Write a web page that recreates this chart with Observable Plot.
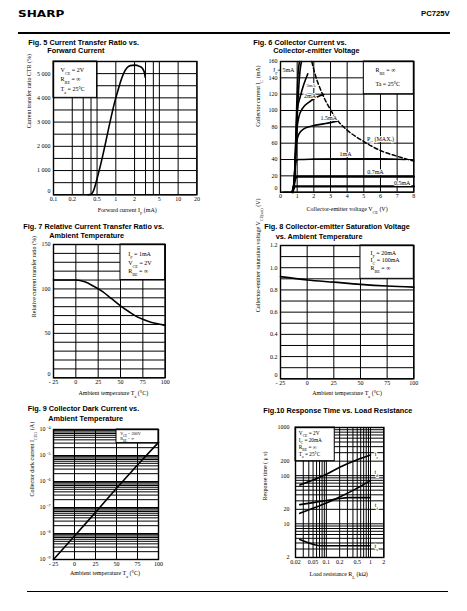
<!DOCTYPE html>
<html><head><meta charset="utf-8">
<script src="https://cdn.jsdelivr.net/npm/d3@7"></script>
<script src="https://cdn.jsdelivr.net/npm/@observablehq/plot@0.6"></script>
<style>
html,body{margin:0;padding:0;background:#fff;}
body{width:467px;height:611px;position:relative;overflow:hidden;}
.abs{position:absolute;white-space:nowrap;}
.ttl{font-family:"Liberation Sans",Arial,sans-serif;font-weight:bold;font-size:7.3px;line-height:9px;color:#000;}
svg{display:block;overflow:visible;}
</style></head><body>
<div class="abs" style="left:18px;top:8px;font-family:'DejaVu Sans',sans-serif;font-weight:bold;font-size:8.5px;line-height:12px;transform:scaleX(1.42);transform-origin:left center;">SHARP</div>
<div class="abs" style="left:421px;top:8px;font-family:'Liberation Sans',Arial,sans-serif;font-weight:bold;font-size:7.7px;line-height:12px;">PC725V</div>
<div class="abs" style="left:18px;top:31.5px;width:432px;height:2.7px;background:#000;"></div>
<div class="abs" style="left:27px;top:591px;width:421px;height:1.3px;background:#000;"></div>

<div class="abs ttl" style="left:28.3px;top:37.5px;">Fig. 5 Current Transfer Ratio vs.</div>
<div class="abs ttl" style="left:47.3px;top:45.5px;">Forward Current</div>
<div class="abs ttl" style="left:253.3px;top:37.5px;">Fig. 6 Collector Current vs.</div>
<div class="abs ttl" style="left:273.3px;top:45.5px;">Collector-emitter Voltage</div>
<div class="abs ttl" style="left:23.3px;top:221.5px;">Fig. 7 Relative Current Transfer Ratio vs.</div>
<div class="abs ttl" style="left:49.3px;top:231.2px;">Ambient Temperature</div>
<div class="abs ttl" style="left:264.3px;top:221.5px;">Fig. 8 Collector-emitter Saturation Voltage</div>
<div class="abs ttl" style="left:275.7px;top:231.5px;">vs. Ambient Temperature</div>
<div class="abs ttl" style="left:27.7px;top:403.8px;">Fig. 9 Collector Dark Current vs.</div>
<div class="abs ttl" style="left:48.3px;top:413.8px;">Ambient Temperature</div>
<div class="abs ttl" style="left:263.3px;top:405.5px;">Fig.10 Response Time vs. Load Resistance</div>

<script>
// ---------------- DATA ----------------
// Fig 5: CTR vs forward current
const f5_xTicks = [0.1, 0.2, 0.5, 1, 2, 5, 10, 20];
const f5_xGrid = [0.1, 0.2, 0.3, 0.4, 0.5, 1, 2, 3, 4, 5, 10, 20];
const f5_yTicks = [1000, 2000, 3000, 4000, 5000];
const f5_yGrid = [0, 500, 1000, 1500, 2000, 2500, 3000, 3500, 4000, 4500, 5000, 5500];
const f5_IF  = [0.36, 0.40, 0.43, 0.54, 1.0, 1.33, 1.5, 1.7, 2.0, 2.4, 2.7, 2.9, 2.97];
const f5_CTR = [0, 20, 120, 1000, 4000, 5000, 5230, 5330, 5350, 5300, 5200, 5000, 4850];
const f5_notes = ["V_{CE} = 2V", "R_{BE} = ∞", "T_{a} = 25°C"];

// Fig 6: collector current vs collector-emitter voltage
const f6_xTicks = [0, 1, 2, 3, 4, 5, 6, 7, 8];
const f6_yTicks = [20, 40, 60, 80, 100, 120, 140, 160];
const f6_yGrid = [0, 20, 40, 60, 80, 100, 120, 140, 160];
const f6_V_5  = [0.2, 0.70, 0.80, 0.88, 0.95, 1.02, 1.10, 1.18, 1.26];
const f6_I_5  = [0, 0, 8, 30, 65, 100, 130, 150, 160];
const f6_V_4  = [0.70, 0.80, 0.87, 0.93, 0.98, 1.04, 1.14];
const f6_I_4  = [0, 8, 35, 75, 110, 140, 160];
const f6_V_3  = [0.72, 0.82, 0.90, 1.00, 1.20, 1.40, 1.64];
const f6_I_3  = [0, 12, 50, 100, 118, 132, 145];
const f6_V_2  = [0.72, 0.82, 0.90, 0.98, 1.10, 1.30, 1.70, 2.20, 2.60];
const f6_I_2  = [0, 12, 45, 75, 92, 102, 110, 116.5, 119.5];
const f6_V_15 = [0.72, 0.82, 0.90, 0.96, 1.10, 1.40, 1.90, 2.70, 3.40];
const f6_I_15 = [0, 12, 42, 60, 71, 77.5, 81, 84, 87];
const f6_V_1  = [0.72, 0.82, 0.90, 0.97, 1.10, 2.0, 4.0, 6.0, 7.5];
const f6_I_1  = [0, 12, 33, 39, 40, 40.5, 41, 41, 40];
const f6_V_07 = [0.72, 0.82, 0.90, 1.00, 8.0];
const f6_I_07 = [0, 10, 17, 19, 19];
const f6_V_05 = [0.72, 0.80, 0.88, 8.0];
const f6_I_05 = [0, 5, 7, 7];
const f6_V_pc = [1.88, 2.0, 2.5, 3.0, 3.5, 4.0, 5.0, 6.0, 7.0, 8.0];
const f6_I_pc = [160, 150, 121, 101, 86, 76, 62, 51, 44, 38];
const f6_labels = ["I_{F}= 5mA", "3mA", "2mA", "1.5mA", "P_{C} (MAX.)", "1mA", "0.7mA", "0.5mA"];
const f6_notes = ["R_{BE} = ∞", "Ta = 25°C"];

// Fig 7: relative CTR vs ambient temperature
const tTicks = [-25, 0, 25, 50, 75, 100];
const f7_yTicks = [50, 100, 150];
const f7_yGrid = [0, 10, 20, 30, 40, 50, 60, 70, 80, 90, 100, 110, 120, 130, 140, 150];
const f7_T = [-25, 0, 10, 20, 30, 40, 50, 60, 70, 80, 90, 100];
const f7_R = [110, 110, 108, 103, 97, 89, 81, 74, 68, 64, 61, 59];
const f7_notes = ["I_{F} = 1mA", "V_{CE} = 2V", "R_{BE} = ∞"];

// Fig 8: saturation voltage vs ambient temperature
const f8_yTicks = [0.2, 0.4, 0.6, 0.8, 1.0, 1.2];
const f8_yGrid = [0, 0.1, 0.2, 0.3, 0.4, 0.5, 0.6, 0.7, 0.8, 0.9, 1.0, 1.1, 1.2];
const f8_T = [-25, 0, 25, 50, 75, 100];
const f8_V = [0.92, 0.89, 0.87, 0.85, 0.835, 0.825];
const f8_notes = ["I_{F} = 20mA", "I_{C} = 100mA", "R_{BE} = ∞"];

// Fig 9: dark current vs ambient temperature
const f9_decades = [1e-9, 1e-8, 1e-7, 1e-6, 1e-5];
const f9_mant = [1, 2, 3, 4, 5, 6, 7, 8, 9];
const f9_yTicks = [1e-9, 1e-8, 1e-7, 1e-6, 1e-5, 1e-4];
const f9_T = [-25, 0, 25, 50, 75, 100];
const f9_I = [1e-9, 8e-9, 6.5e-8, 5.5e-7, 4.3e-6, 3.2e-5];
const f9_notes = ["V_{CE} = 200V", "R_{BE} = ∞"];

// Fig 10: response time vs load resistance
const f10_xTicks = [0.02, 0.05, 0.1, 0.2, 0.5, 1, 2];
const f10_yTicks = [2, 5, 10, 20, 50, 100, 200, 500, 1000];
const f10_xDec = [0.01, 0.1, 1];
const f10_yDec = [1, 10, 100];
const f10_RL_tr = [0.025, 0.05, 0.1, 0.2, 0.5, 1.0];
const f10_tr    = [64, 81, 107, 150, 215, 270];
const f10_RL_td = [0.025, 0.05, 0.1, 0.2, 0.5, 1.0];
const f10_td    = [16.5, 21, 27, 36, 55, 80];
const f10_RL_tf = [0.025, 0.05, 0.1, 0.2, 0.3, 0.5, 1.0];
const f10_tf    = [25, 27.5, 30.5, 33.5, 35, 35, 35];
const f10_RL_ts = [0.025, 0.04, 0.06, 0.08, 0.2, 1.0];
const f10_ts    = [4.7, 4.0, 3.6, 3.5, 3.5, 3.5];
const f10_labels = ["t_{r}", "t_{d}", "t_{f}", "t_{s}"];
const f10_notes = ["V_{CE} = 2V", "I_{C} = 20mA", "R_{BE} = ∞", "T_{a} = 25°C"];

// ---------------- HELPERS ----------------
const zip = (xs, ys) => xs.map((x, i) => ({x, y: ys[i]}));
const NS = "http://www.w3.org/2000/svg";
function richify(root) {
  root.querySelectorAll("text").forEach(t => {
    const kids = t.querySelectorAll("tspan");
    const els = kids.length ? Array.from(kids) : [t];
    els.forEach(el => {
      const s = el.textContent;
      if (!/[_^]\{/.test(s)) return;
      while (el.firstChild) el.removeChild(el.firstChild);
      const re = /([_^])\{([^}]*)\}/g; let last = 0, m;
      const add = (txt, kind) => {
        if (!txt) return;
        const ts = document.createElementNS(NS, "tspan");
        ts.textContent = txt;
        if (kind) { ts.setAttribute("font-size", "70%"); ts.setAttribute("baseline-shift", kind === "_" ? "sub" : "super"); }
        el.appendChild(ts);
      };
      while ((m = re.exec(s))) { add(s.slice(last, m.index)); add(m[2], m[1]); last = re.lastIndex; }
      add(s.slice(last));
    });
  });
}
const ML = 42, MR = 14, MT = 6, MB = 26;
function mk(f, opts) {
  const w = f.x1 - f.x0, h = f.y1 - f.y0;
  const svg = Plot.plot({
    width: w + ML + MR, height: h + MT + MB,
    marginLeft: ML, marginRight: MR, marginTop: MT, marginBottom: MB,
    style: {fontFamily: "'Liberation Serif', 'Times New Roman', serif", fontSize: "6px", background: "transparent", color: "#000", overflow: "visible"},
    ...opts
  });
  richify(svg);
  const d = document.createElement("div");
  d.style.cssText = `position:absolute;left:${f.x0 - ML}px;top:${f.y0 - MT}px;`;
  d.appendChild(svg);
  document.body.appendChild(d);
}
const G = {stroke: "#000", strokeWidth: 1};
const fmtSpace = d => d === 0 ? "0" : d3.format(",")(d).replace(/,/g, " ");
const fmtT = d => d < 0 ? "- " + (-d) : String(d);
const xTitle = (s, dy, dx = 0) => Plot.text([s], {frameAnchor: "bottom", lineAnchor: "middle", dy, dx, fontSize: 6});
const yTitle = (s, dx, dy = 0) => Plot.text([s], {frameAnchor: "left", lineAnchor: "middle", rotate: -90, dx, dy, fontSize: 6});
// the "0" of the y axis sits a little above the frame's corner, as in the reference
const zeroLabel = (xmin) => Plot.text(["0"], {x: xmin, y: 0, textAnchor: "end", dx: -3, dy: -4, fontSize: 6});

// ---------------- FIG 5 ----------------
mk({x0: 53.3, y0: 61, x1: 196.7, y1: 194.3}, {
  x: {type: "log", domain: [0.1, 20], ticks: f5_xTicks, tickFormat: d => String(d), tickSize: 0, tickPadding: 2, label: null},
  y: {domain: [0, 5500], ticks: f5_yTicks, tickFormat: fmtSpace, tickSize: 0, tickPadding: 3, label: null},
  marks: [
    Plot.ruleX(f5_xGrid, G), Plot.ruleY(f5_yGrid, G),
    Plot.rect([0], {x1: 0.1, x2: 0.5, y1: 4000, y2: 5500, fill: "white", stroke: "#000"}),
    Plot.line(zip(f5_IF, f5_CTR), {x: "x", y: "y", strokeWidth: 1.6, curve: "monotone-x"}),
    Plot.text(f5_notes, {x: 0.13, y: (d, i) => [5130, 4760, 4370][i], textAnchor: "start", fontSize: 6}),
    Plot.frame({strokeWidth: 1.4}),
    zeroLabel(0.1),
    xTitle("Forward current I_{F} (mA)", 15.5, 2),
    yTitle("Current transfer ratio CTR (%)", -24)
  ]
});

// ---------------- FIG 6 ----------------
mk({x0: 280, y0: 61, x1: 413.3, y1: 191.7}, {
  x: {domain: [0, 8], ticks: f6_xTicks, tickSize: 0, tickPadding: 2, label: null},
  y: {domain: [0, 160], ticks: f6_yTicks, tickSize: 0, tickPadding: 3, label: null},
  marks: [
    Plot.ruleX(f6_xTicks, G), Plot.ruleY(f6_yGrid, G),
    Plot.rect([0], {x1: 5, x2: 8, y1: 120, y2: 160, fill: "white", stroke: "#000"}),
    Plot.line(zip(f6_V_05, f6_I_05), {x: "x", y: "y", strokeWidth: 2.3, curve: "monotone-x"}),
    Plot.line(zip(f6_V_07, f6_I_07), {x: "x", y: "y", strokeWidth: 2.3, curve: "monotone-x"}),
    Plot.line(zip(f6_V_1, f6_I_1), {x: "x", y: "y", strokeWidth: 1.6, curve: "monotone-x"}),
    Plot.line(zip(f6_V_15, f6_I_15), {x: "x", y: "y", strokeWidth: 1.6, curve: "monotone-x"}),
    Plot.line(zip(f6_V_2, f6_I_2), {x: "x", y: "y", strokeWidth: 1.6, curve: "monotone-x"}),
    Plot.line(zip(f6_V_3, f6_I_3), {x: "x", y: "y", strokeWidth: 1.6, curve: "monotone-x"}),
    Plot.line(zip(f6_V_4, f6_I_4), {x: "x", y: "y", strokeWidth: 1.6, curve: "monotone-x"}),
    Plot.line(zip(f6_V_5, f6_I_5), {x: "x", y: "y", strokeWidth: 1.6, curve: "monotone-x"}),
    Plot.line(zip(f6_V_pc, f6_I_pc), {x: "x", y: "y", strokeWidth: 1.5, strokeDasharray: "4,2.5", curve: "monotone-x"}),
    Plot.text(f6_labels, {
      x: [0.2, 1.83, 1.77, 2.9, 6.0, 3.9, 5.7, 7.3],
      y: [150, 130, 118, 90.6, 64.5, 46.5, 24.5, 11],
      textAnchor: (d, i) => i === 0 ? "start" : "middle",
      fontSize: (d, i) => i === 1 ? 4.5 : 6,
      stroke: "white", strokeWidth: 2, fill: "#000"
    }),
    Plot.text(f6_notes, {x: 5.7, y: [149, 132.7], textAnchor: "start", fontSize: 6}),
    Plot.frame({strokeWidth: 1.4}),
    zeroLabel(0),
    xTitle("Collector-emitter voltage V_{CE} (V)", 17, 0),
    yTitle("Collector current I_{C} (mA)", -22)
  ]
});

// ---------------- FIG 7 ----------------
mk({x0: 53.3, y0: 244, x1: 165, y1: 377.3}, {
  x: {domain: [-25, 100], ticks: tTicks, tickFormat: fmtT, tickSize: 0, tickPadding: 2, label: null},
  y: {domain: [0, 150], ticks: f7_yTicks, tickSize: 0, tickPadding: 3, label: null},
  marks: [
    Plot.ruleX(tTicks, G), Plot.ruleY(f7_yGrid, G),
    Plot.rect([0], {x1: 50, x2: 100, y1: 110, y2: 150, fill: "white", stroke: "#000"}),
    Plot.line(zip(f7_T, f7_R), {x: "x", y: "y", strokeWidth: 1.6, curve: "monotone-x"}),
    Plot.text(f7_notes, {x: 58.6, y: [139.5, 129.4, 119.6], textAnchor: "start", fontSize: 6}),
    Plot.frame({strokeWidth: 1.4}),
    zeroLabel(-25),
    xTitle("Ambient temperature T_{a} (°C)", 15.4, 4),
    yTitle("Relative current transfer ratio (%)", -19, 6)
  ]
});

// ---------------- FIG 8 ----------------
mk({x0: 280, y0: 245, x1: 413.3, y1: 378.3}, {
  x: {domain: [-25, 100], ticks: tTicks, tickFormat: fmtT, tickSize: 0, tickPadding: 2, label: null},
  y: {domain: [0, 1.2], ticks: f8_yTicks, tickFormat: d => d.toFixed(1), tickSize: 0, tickPadding: 3, label: null},
  marks: [
    Plot.ruleX(tTicks, G), Plot.ruleY(f8_yGrid, G),
    Plot.rect([0], {x1: 50, x2: 100, y1: 0.9, y2: 1.2, fill: "white", stroke: "#000"}),
    Plot.line(zip(f8_T, f8_V), {x: "x", y: "y", strokeWidth: 1.6, curve: "monotone-x"}),
    Plot.text(f8_notes, {x: 59.4, y: [1.134, 1.071, 0.996], textAnchor: "start", fontSize: 6}),
    Plot.frame({strokeWidth: 1.4}),
    zeroLabel(-25),
    xTitle("Ambient temperature T_{a} (°C)", 14.4, 0),
    yTitle("Collector-emitter saturation voltage V_{CE(sat)} (V)", -22)
  ]
});

// ---------------- FIG 9 ----------------
const f9_yGrid = f9_decades.flatMap(d => f9_mant.map(m => m * d)).concat([1e-4]);
mk({x0: 53.3, y0: 429.3, x1: 158.3, y1: 559.3}, {
  x: {domain: [-25, 100], ticks: tTicks, tickFormat: fmtT, tickSize: 0, tickPadding: 2, label: null},
  y: {type: "log", domain: [1e-9, 1e-4], ticks: f9_yTicks, tickFormat: d => "10 ^{-" + Math.round(-Math.log10(d)) + "}", tickSize: 0, tickPadding: 3, label: null},
  marks: [
    Plot.ruleX(tTicks, G), Plot.ruleY(f9_yGrid, G),
    Plot.rect([0], {x1: 50, x2: 100, y1: 3e-5, y2: 1e-4, fill: "white", stroke: "#000"}),
    Plot.line(zip(f9_T, f9_I), {x: "x", y: "y", strokeWidth: 1.6}),
    Plot.text(f9_notes, {x: 54.4, y: [6.9e-5, 4.4e-5], textAnchor: "start", fontSize: 4.2}),
    Plot.frame({strokeWidth: 1.4}),
    xTitle("Ambient temperature T_{a} (°C)", 13.7, -1),
    yTitle("Collector dark current I_{CEO} (A)", -21.6, 2)
  ]
});

// ---------------- FIG 10 ----------------
const f10_xGrid = f10_xDec.flatMap(d => [1, 2, 3, 4, 5, 6, 7, 8, 9].map(m => m * d)).filter(v => v >= 0.0199 && v <= 2.001);
const f10_yGrid = f10_yDec.flatMap(d => [1, 2, 3, 4, 5, 6, 7, 8, 9].map(m => m * d)).filter(v => v >= 1.99).concat([1000]);
mk({x0: 295, y0: 426.7, x1: 383.3, y1: 556.7}, {
  x: {type: "log", domain: [0.02, 2], ticks: f10_xTicks, tickFormat: d => String(d), tickSize: 0, tickPadding: 2, label: null},
  y: {type: "log", domain: [2, 1000], ticks: f10_yTicks, tickFormat: d => String(d), tickSize: 0, tickPadding: 6, label: null},
  marks: [
    Plot.ruleX(f10_xGrid, G), Plot.ruleY(f10_yGrid, G),
    Plot.rect([0], {x1: 0.02, x2: 0.155, y1: 200, y2: 1000, fill: "white", stroke: "#000"}),
    Plot.line(zip(f10_RL_tr, f10_tr), {x: "x", y: "y", strokeWidth: 1.6, curve: "monotone-x"}),
    Plot.line(zip(f10_RL_td, f10_td), {x: "x", y: "y", strokeWidth: 1.6, curve: "monotone-x"}),
    Plot.line(zip(f10_RL_tf, f10_tf), {x: "x", y: "y", strokeWidth: 1.6, curve: "monotone-x"}),
    Plot.line(zip(f10_RL_ts, f10_ts), {x: "x", y: "y", strokeWidth: 1.6, curve: "monotone-x"}),
    Plot.text(f10_labels, {x: 1.35, y: [280, 116, 24.8, 3.5], fontSize: 6, stroke: "white", strokeWidth: 2, fill: "#000"}),
    Plot.text(f10_notes, {x: 0.0238, y: [745, 530, 382, 273], textAnchor: "start", fontSize: 5.3}),
    Plot.frame({strokeWidth: 1.4}),
    xTitle("Load resistance R_{L} (kΩ)", 16.6, -1),
    yTitle("Response time ( μ s)", -30, 8)
  ]
});
</script>
</body></html>
